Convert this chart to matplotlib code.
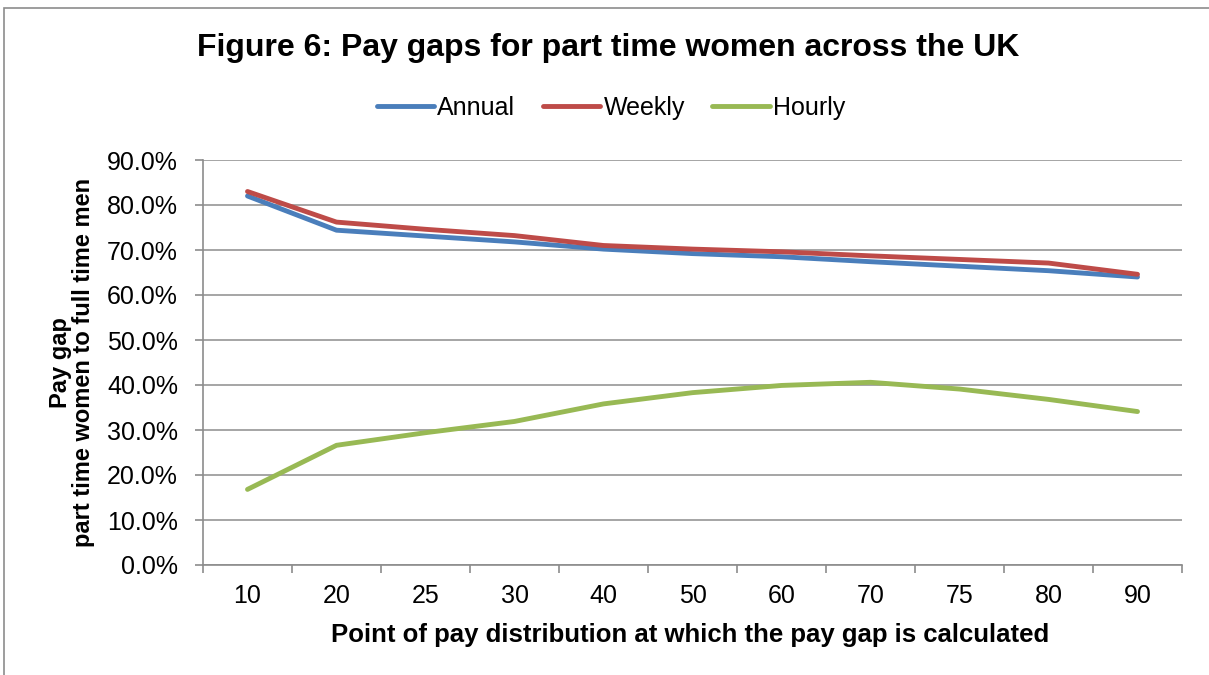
import matplotlib
matplotlib.use("Agg")
import matplotlib.pyplot as plt
from matplotlib.patches import Rectangle
from matplotlib.ticker import FuncFormatter, FixedLocator, NullFormatter

categories = ["10", "20", "25", "30", "40", "50", "60", "70", "75", "80", "90"]
annual = [82.0, 74.4, 73.1, 71.8, 70.2, 69.2, 68.5, 67.4, 66.4, 65.4, 64.0]
weekly = [83.0, 76.2, 74.6, 73.2, 71.0, 70.2, 69.6, 68.7, 67.9, 67.1, 64.6]
hourly = [16.8, 26.6, 29.4, 31.9, 35.8, 38.3, 39.9, 40.6, 39.1, 36.8, 34.1]

plt.rcParams['font.family'] = ['Liberation Sans', 'DejaVu Sans']

fig = plt.figure(figsize=(12.09, 6.75), dpi=100)
fig.patch.set_facecolor('white')
fig.add_artist(Rectangle((4/1209, -0.01), 1.02, 1 - 8/675 + 0.01, transform=fig.transFigure,
                         fill=False, edgecolor='#8c8c8c', linewidth=1.2))

ax = fig.add_axes([203/1209, 110/675, (1182-203)/1209, (565-160)/675])
x = list(range(len(categories)))
ax.plot(x, annual, color='#4A7EBB', lw=3.5, label='Annual', solid_capstyle='round', zorder=3)
ax.plot(x, weekly, color='#BE4B48', lw=3.5, label='Weekly', solid_capstyle='round', zorder=3)
ax.plot(x, hourly, color='#98B954', lw=3.5, label='Hourly', solid_capstyle='round', zorder=3)

ax.set_xlim(-0.5, len(categories) - 0.5)
ax.set_ylim(0, 90)
ax.set_yticks(range(0, 91, 10))
ax.yaxis.set_major_formatter(FuncFormatter(lambda v, p: f"{v:.1f}%"))
ax.grid(axis='y', color='#969696', lw=1.2)
ax.set_axisbelow(True)

ax.set_xticks(x)
ax.set_xticklabels(categories)
ax.tick_params(axis='x', which='major', length=0, pad=14, labelsize=18)
ax.xaxis.set_minor_locator(FixedLocator([i - 0.5 for i in range(len(categories) + 1)]))
ax.xaxis.set_minor_formatter(NullFormatter())
ax.tick_params(axis='x', which='minor', length=6, color='#8c8c8c', width=1.2)
ax.tick_params(axis='y', length=6, color='#8c8c8c', width=1.2, labelsize=18, pad=12)

for s in ['top', 'right']:
    ax.spines[s].set_visible(False)
for s in ['left', 'bottom']:
    ax.spines[s].set_color('#8c8c8c')
    ax.spines[s].set_linewidth(1.2)

ax.set_xlabel("Point of pay distribution at which the pay gap is calculated",
              fontsize=18.5, fontweight='bold')
ax.xaxis.label.set_va('center')
ax.xaxis.set_label_coords((690-203)/979, (565-635)/405)
ax.set_ylabel("Pay gap\npart time women to full time men", fontsize=17,
              fontweight='bold', linespacing=1.0)
ax.yaxis.label.set_va('center')
ax.yaxis.set_label_coords((72-203)/979, 0.5)

fig.text(608/1209, 1 - 48/675, "Figure 6: Pay gaps for part time women across the UK",
         ha='center', va='center', fontsize=23, fontweight='bold')

leg = fig.legend(loc='center', bbox_to_anchor=(611/1209, 1 - 108/675), ncol=3, frameon=False,
                 fontsize=18, handlelength=2.3, handletextpad=0.12, columnspacing=1.1,
                 borderpad=0, borderaxespad=0)

fig.savefig("out.png", dpi=100)
